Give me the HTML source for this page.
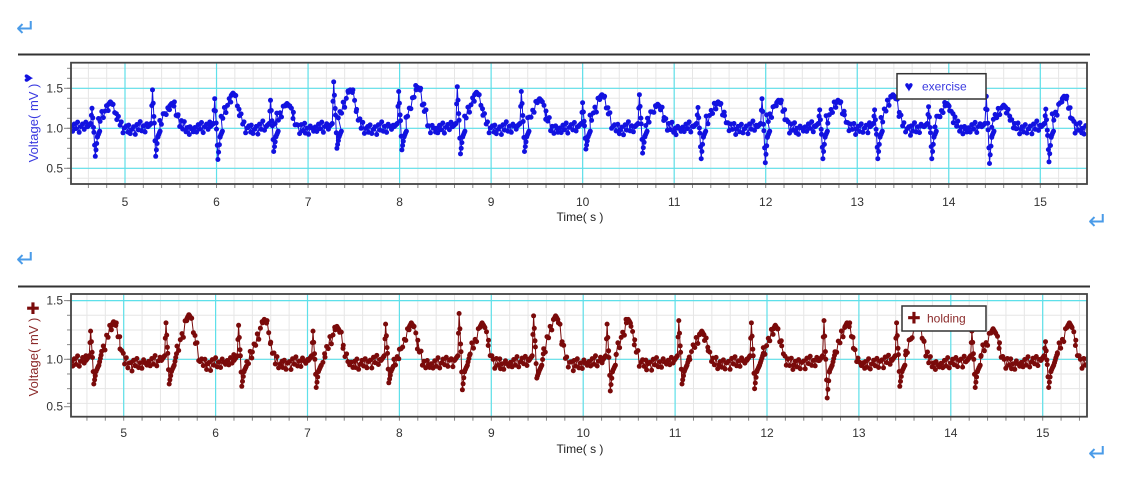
<!DOCTYPE html>
<html><head><meta charset="utf-8"><style>
html,body{margin:0;padding:0;background:#fff;width:1130px;height:484px;overflow:hidden;font-family:"Liberation Sans",sans-serif}
</style></head><body>
<svg id="svg" width="1130" height="484" xmlns="http://www.w3.org/2000/svg" style="position:absolute;left:0;top:0">
<text x="16" y="36" font-size="24" fill="#4a9be8">↵</text>
<text x="1088" y="229" font-size="24" fill="#4a9be8">↵</text>
<text x="16" y="267" font-size="24" fill="#4a9be8">↵</text>
<text x="1088" y="461" font-size="24" fill="#4a9be8">↵</text>
<line x1="18" y1="54.5" x2="1090" y2="54.5" stroke="#333" stroke-width="2"/>
<line x1="18" y1="286.5" x2="1090" y2="286.5" stroke="#333" stroke-width="2"/>
<g id="c1"></g>
<g id="c2"></g>
</svg>
<script>
// exercise series beats
const exRTimes=[4.64,5.30,5.98,6.59,7.28,7.99,8.63,9.33,10.00,10.62,11.26,11.96,12.59,13.19,13.78,14.41,15.06];
const exRValues=[1.25,1.48,1.37,1.35,1.58,1.46,1.52,1.46,1.32,1.42,1.26,1.37,1.23,1.23,1.27,1.40,1.24];
const exSValues=[0.65,0.65,0.61,0.71,0.75,0.73,0.68,0.71,0.74,0.69,0.62,0.57,0.62,0.62,0.62,0.56,0.58];
const exTTimes=[4.84,5.51,6.18,6.77,7.46,8.20,8.84,9.53,10.21,10.82,11.48,12.14,12.79,13.39,13.98,14.60,15.26];
const exTValues=[1.33,1.31,1.44,1.31,1.48,1.51,1.45,1.37,1.42,1.30,1.33,1.35,1.35,1.42,1.31,1.29,1.40];
// holding series beats
const hoRTimes=[4.64,5.46,6.25,7.06,7.85,8.65,9.46,10.26,11.04,11.83,12.62,13.41,14.23,15.03];
const hoRValues=[1.24,1.31,1.29,1.24,1.30,1.39,1.37,1.30,1.33,1.31,1.33,1.31,1.24,1.15];
const hoSValues=[0.79,0.79,0.77,0.76,0.80,0.74,0.84,0.73,0.79,0.75,0.67,0.77,0.76,0.76];
const hoTTimes=[4.89,5.71,6.53,7.32,8.13,8.90,9.70,10.49,11.29,12.09,12.87,13.64,14.46,15.29];
const hoTValues=[1.32,1.38,1.34,1.28,1.31,1.31,1.37,1.34,1.24,1.29,1.31,1.33,1.26,1.31];
// baseline sample jitter (mV)
const exJitter=[0.02,-0.04,0.05,-0.01,0.07,-0.06,0.01,0.04,-0.03,0.06,-0.05,0.0,0.03,-0.07,0.05,-0.02,0.08,-0.04,0.02,-0.06,0.04,0.01,-0.03];
const hoJitter=[0.01,-0.03,0.03,-0.02,0.05,-0.04,0.0,0.03,-0.02,0.04,-0.04,0.01,0.02,-0.05,0.04,-0.01,0.05,-0.03,0.01,-0.04,0.03,0.0,-0.02];
const xTicks=[5,6,7,8,9,10,11,12,13,14,15];
const yTicks=["0.5","1.0","1.5"];

const NS="http://www.w3.org/2000/svg";
function mk(tag,attrs,parent){const e=document.createElementNS(NS,tag);for(const k in attrs)e.setAttribute(k,attrs[k]);parent.appendChild(e);return e;}

function chart(g,cfg){
  const L=71,R=1087,T=cfg.top,B=cfg.bottom;
  const x=t=>cfg.x5+(t-5)*cfg.pps;
  const y=v=>cfg.y1-(v-1)*cfg.ppv;
  const t0=(L-cfg.x5)/cfg.pps+5,t1=(R-cfg.x5)/cfg.pps+5;
  for(let t=Math.ceil(t0*5)/5;t<=t1;t+=0.2){const X=x(t);if(X<L||X>R)continue;
    const ln=mk('line',{x1:X,y1:T,x2:X,y2:B,stroke:'#e6e6e6','stroke-width':1},g);
    
    
    const tk=mk('line',{x1:X,y1:B,x2:X,y2:B+4,stroke:'#888','stroke-width':1},g);
    
    }
  for(let v=0;v<=2;v+=0.125){const Y=y(v);if(Y<T||Y>B)continue;
    const ln=mk('line',{x1:L,y1:Y,x2:R,y2:Y,stroke:'#e6e6e6','stroke-width':1},g);
    
    
    const tk=mk('line',{x1:L-4,y1:Y,x2:L,y2:Y,stroke:'#888','stroke-width':1},g);
    
    }
  xTicks.forEach(t=>{const X=x(t);
    const ln=mk('line',{x1:X,y1:T,x2:X,y2:B,stroke:'#5ee0ea','stroke-width':1.2},g);
    
    
    const lb=mk('text',{x:X,y:cfg.tickY,'font-size':12,fill:'#333','text-anchor':'middle'},g);
    lb.textContent=t;
    
    });
  yTicks.forEach(s=>{const v=parseFloat(s);let Y=y(v);
    if(Y<=B&&Y>=T){const ln=mk('line',{x1:L,y1:Y,x2:R,y2:Y,stroke:'#5ee0ea','stroke-width':1.2},g);
      
      }
    if(Y>B)Y=B-10;
    const lb=mk('text',{x:63,y:Y+4,'font-size':12,fill:'#333','text-anchor':'end'},g);
    lb.textContent=s;
    
    
    const tk=mk('line',{x1:L-7,y1:Y,x2:L,y2:Y,stroke:'#888','stroke-width':1},g);
    
    });
  const pts=[[t0,cfg.base]];
  cfg.r.forEach((r,i)=>{
    const tt=cfg.tt[i],tv=cfg.tv[i],b=cfg.base;
    pts.push([r-0.05,b+0.02],[r-0.015,b+0.06],[r,cfg.rv[i]],[r+0.02,(cfg.rv[i]+cfg.sv[i])/2],[r+0.035,cfg.sv[i]],[r+0.06,0.9],
      [r+0.09,b-0.02],[tt-0.13,b+(tv-b)*0.25],[tt-0.06,b+(tv-b)*0.65],[tt-0.02,tv-0.03],[tt,tv],[tt+0.03,tv-0.04],
      [tt+0.07,b+(tv-b)*0.45],[tt+0.12,cfg.post+0.03],[tt+0.2,cfg.post]);
  });
  pts.push([t1,cfg.base]);
  const clip=mk('clipPath',{id:cfg.id+'clip'},g);
  mk('rect',{x:L,y:T,width:R-L,height:B-T},clip);
  const wg=mk('g',{'clip-path':'url(#'+cfg.id+'clip)'},g);
  
  
  const samples=[];let n=0;
  for(let k=0;k<pts.length-1;k++){
    const [a,av]=pts[k],[b,bv]=pts[k+1];
    const step=(b-a)<0.04?0.008:0.018;
    for(let t=a;t<b;t+=step){
      let v=av+(bv-av)*(t-a)/(b-a);
      if(step>0.01) v+=cfg.jit[n%cfg.jit.length];
      n++;
      samples.push([t,v]);
    }
  }
  const path=mk('polyline',{points:samples.map(p=>x(p[0]).toFixed(1)+','+y(p[1]).toFixed(1)).join(' '),fill:'none',stroke:cfg.color,'stroke-width':1},wg);
  
  
  samples.forEach(p=>{
    const c=mk('circle',{cx:x(p[0]).toFixed(1),cy:y(p[1]).toFixed(1),r:2.5,fill:cfg.color},wg);
    
    
  });
  const fr=mk('rect',{x:L,y:T,width:R-L,height:B-T,fill:'none',stroke:'#444','stroke-width':1.8},g);
  
  
  const xt=mk('text',{x:580,y:cfg.titleY,'font-size':12,fill:'#222','text-anchor':'middle'},g);
  xt.textContent='Time( s )';
  
  
  const yt=mk('text',{x:0,y:0,'font-size':13,fill:cfg.labelColor,'text-anchor':'middle',transform:'translate(38,'+cfg.ylabY+') rotate(-90)'},g);
  yt.textContent='Voltage( mV )';
  
  
  const ic=mk('text',{x:0,y:0,'font-size':cfg.iconSize,fill:cfg.color,'text-anchor':'middle',transform:'translate(33,'+cfg.iconY+') rotate('+cfg.iconRot+')'},g);
  ic.textContent=cfg.icon;
  
  
  const lg=mk('g',{},g);
  
  
  mk('rect',{x:cfg.lg[0],y:cfg.lg[1],width:cfg.lg[2],height:cfg.lg[3],fill:'#fff',stroke:'#333','stroke-width':1.5},lg);
  const li=mk('text',{x:cfg.lg[0]+12,y:cfg.lg[1]+cfg.lg[3]/2+5,'font-size':cfg.iconSize,fill:cfg.color,'text-anchor':'middle'},lg);
  li.textContent=cfg.icon;
  
  
  const lt=mk('text',{x:cfg.lg[0]+25,y:cfg.lg[1]+cfg.lg[3]/2+4,'font-size':12,fill:cfg.labelColor},lg);
  lt.textContent=cfg.name;
  
  
}
chart(document.getElementById('c1'),{id:'a',name:'exercise',top:62.7,bottom:184,x5:125,pps:91.53,y1:128.3,ppv:80,
  r:exRTimes,rv:exRValues,sv:exSValues,tt:exTTimes,tv:exTValues,jit:exJitter,base:1.0,post:0.98,color:'#1212e0',labelColor:'#3a3ae0',
  tickY:206,titleY:221,ylabY:123,iconY:78,iconRot:-90,iconSize:15,icon:'♥',lg:[897,73.7,89,25.3]});
chart(document.getElementById('c2'),{id:'b',name:'holding',top:294,bottom:416.7,x5:123.7,pps:91.9,y1:359.3,ppv:117.4,
  r:hoRTimes,rv:hoRValues,sv:hoSValues,tt:hoTTimes,tv:hoTValues,jit:hoJitter,base:0.97,post:0.95,color:'#7a0a0a',labelColor:'#8b2a2a',
  tickY:437,titleY:453,ylabY:357,iconY:314,iconRot:0,iconSize:16,icon:'✚',lg:[902,306,84,25]});
</script>
</body></html>
